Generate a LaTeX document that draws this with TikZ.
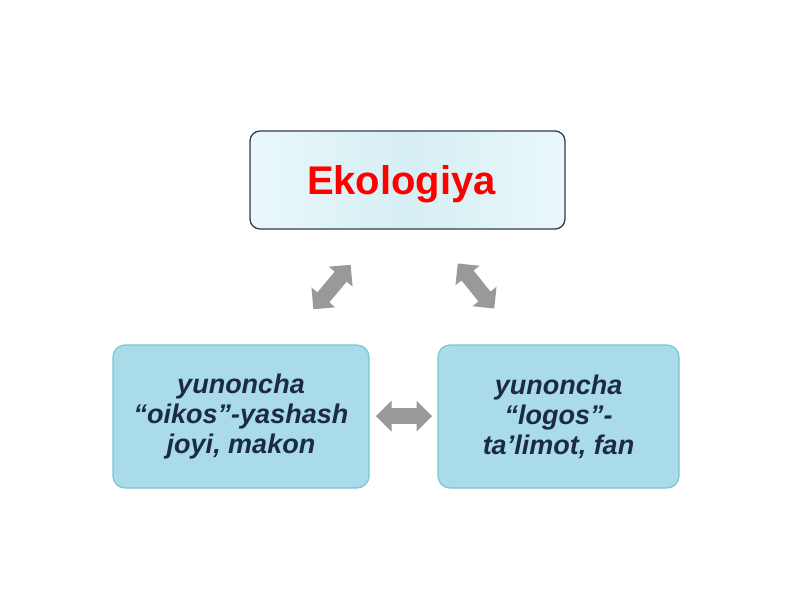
\documentclass[tikz,border=0pt]{standalone}
\usepackage{fontspec}
\setmainfont{Liberation Sans}
\usetikzlibrary{shapes.arrows}
\definecolor{navy}{HTML}{1C2A48}
\definecolor{boxline}{HTML}{2E3B55}
\definecolor{cyanfill}{HTML}{A9DCE8}
\definecolor{cyanline}{HTML}{78C6D6}
\definecolor{toplight}{HTML}{EAF7FA}
\definecolor{topmid}{HTML}{D6EFF4}
\definecolor{arrowgray}{HTML}{999999}
\tikzset{
  topbox/.style={draw=boxline, line width=1.3pt, rounded corners=10pt,
    left color=toplight, right color=toplight, middle color=topmid,
    minimum width=315pt, minimum height=98pt, inner sep=0pt},
  toptext/.style={font=\fontsize{40}{44}\selectfont\bfseries, text=red, inner sep=0pt},
  subbox/.style={draw=cyanline, line width=1.2pt, rounded corners=12pt,
    fill=cyanfill, minimum height=143pt, inner sep=0pt, align=center,
    font=\fontsize{27}{30}\selectfont\bfseries\itshape, text=navy},
  darrow/.style={double arrow, fill=arrowgray, draw=none, inner sep=0pt,
    inner ysep=7pt, minimum width=31pt, double arrow tip angle=90}
}
\begin{document}
\begin{tikzpicture}[x=1pt,y=-1pt]
\useasboundingbox (0,0) rectangle (800,600);
\node[topbox] (eko) at (407.5,180) {};
\node[toptext, anchor=base] (ekotext) at (401.5,194) {Ekologiya};
\node[subbox, minimum width=256pt] (oikos) at (241,416.5) {yunoncha\\“oikos”-yashash\\joyi, makon};
\node[subbox, minimum width=241pt] (logos) at (558.5,416.5) {yunoncha\\“logos”-\\ta’limot, fan};
\node[darrow, minimum height=58pt, rotate=50] (a1) at (332,287) {};
\node[darrow, minimum height=58pt, rotate=-51] (a2) at (476,286) {};
\node[darrow, minimum height=56pt] (a3) at (404,416) {};
\end{tikzpicture}
\end{document}
